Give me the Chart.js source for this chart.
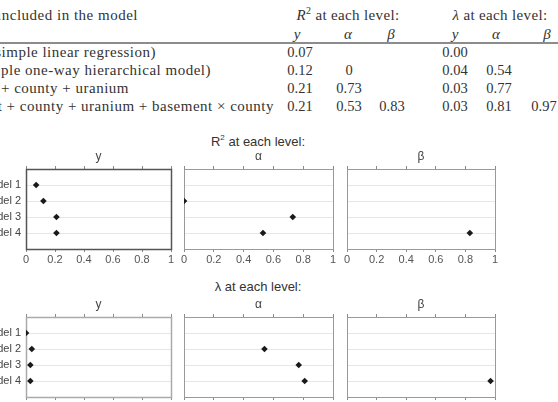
<!DOCTYPE html>
<html>
<head>
<meta charset="utf-8">
<script src="https://cdn.jsdelivr.net/npm/chart.js@4"></script>
<style>
  html, body { margin: 0; padding: 0; background: #fff; }
  body { width: 558px; height: 402px; overflow: hidden; position: relative; }
  .tx { position: absolute; white-space: nowrap; font-family: "Liberation Serif", serif; font-size: 15px; color: #333; height: 20px; line-height: 20px; }
  .desc { letter-spacing: 0.5px; }
  .num { font-size: 14.5px; }
  .hd { letter-spacing: 0.35px; }
  .c { transform: translateX(-50%); }
  .r { text-align: right; }
  .m { font-style: italic; }
  .rule { position: absolute; left: 0; width: 558px; top: 42px; height: 2px; background: #8c8c8c; }
  .ttl { position: absolute; white-space: nowrap; font-family: "Liberation Sans", Arial, sans-serif; font-size: 13px; color: #333; transform: translateX(-50%); height: 16px; line-height: 16px; }
  .ttl sup { font-size: 8px; line-height: 0; vertical-align: 6px; }
  .panel { position: absolute; }
</style>
</head>
<body>

<!-- table above the charts -->
<div class="tx r desc" style="right:420px;top:5px">Predictors included in the model</div>
<div class="tx c hd" style="left:348px;top:5px"><span class="m">R</span><sup style="font-size:10px;line-height:0">2</sup> at each level:</div>
<div class="tx c hd" style="left:500px;top:5px"><span class="m">λ</span> at each level:</div>
<div class="tx c m" style="left:297px;top:24px">y</div>
<div class="tx c m" style="left:348px;top:24px">α</div>
<div class="tx c m" style="left:391px;top:24px">β</div>
<div class="tx c m" style="left:455px;top:24px">y</div>
<div class="tx c m" style="left:496px;top:24px">α</div>
<div class="tx c m" style="left:547px;top:24px">β</div>
<div class="rule"></div>
<div id="tableRows"></div>

<div class="ttl" style="left:258px;top:134px">R<sup>2</sup> at each level:</div>
<div class="ttl" style="left:258px;top:279px">λ at each level:</div>

<div class="panel" style="left:-20px;top:149px;width:197px;height:118px"><canvas id="r2y"></canvas></div>
<div class="panel" style="left:178px;top:149px;width:161px;height:118px"><canvas id="r2a"></canvas></div>
<div class="panel" style="left:341px;top:149px;width:160px;height:118px"><canvas id="r2b"></canvas></div>
<div class="panel" style="left:-20px;top:297px;width:197px;height:118px"><canvas id="lamy"></canvas></div>
<div class="panel" style="left:178px;top:297px;width:161px;height:118px"><canvas id="lama"></canvas></div>
<div class="panel" style="left:341px;top:297px;width:160px;height:118px"><canvas id="lamb"></canvas></div>

<script>
const models = ["Model 1", "Model 2", "Model 3", "Model 4"];
const modelDesc = [
  "basement (simple linear regression)",
  "county (simple one-way hierarchical model)",
  "basement + county + uranium",
  "basement + county + uranium + basement × county"
];
const r2Y = [0.07, 0.12, 0.21, 0.21];
const r2Alpha = [null, 0, 0.73, 0.53];
const r2Beta = [null, null, null, 0.83];
const lamY = [0.00, 0.04, 0.03, 0.03];
const lamAlpha = [null, 0.54, 0.77, 0.81];
const lamBeta = [null, null, null, 0.97];
const xTicks = [0, 0.2, 0.4, 0.6, 0.8, 1];
const xTickLabels = ["0", "0.2", "0.4", "0.6", "0.8", "1"];

// table rows (text right edges / row centres)
const rowRight = [156, 211, 129, 274];
const rowMid = [53, 71, 88.5, 106.5];
const colMid = [300, 349, 392, 455, 499, 544];

const rowsEl = document.getElementById("tableRows");
models.forEach((m, i) => {
  const top = rowMid[i] - 11;
  let html = `<div class="tx r desc" style="right:${558 - rowRight[i]}px;top:${top}px">${modelDesc[i]}</div>`;
  [r2Y, r2Alpha, r2Beta, lamY, lamAlpha, lamBeta].forEach((arr, j) => {
    if (arr[i] === null) return;
    const txt = (arr === r2Alpha && arr[i] === 0) ? "0" : arr[i].toFixed(2);
    html += `<div class="tx c num" style="left:${colMid[j]}px;top:${top}px">${txt}</div>`;
  });
  rowsEl.insertAdjacentHTML("beforeend", html);
});

const framePlugin = {
  id: "frame",
  beforeDatasetsDraw(chart, args, opts) {
    const { ctx, chartArea: a } = chart;
    ctx.save();
    ctx.strokeStyle = opts.color;
    ctx.lineWidth = opts.width;
    ctx.strokeRect(Math.round(a.left) + 0.5, Math.round(a.top) + 0.5, Math.round(a.right - a.left), Math.round(a.bottom - a.top));
    ctx.restore();
  }
};

function noPad(s) {
  s.paddingLeft = 0; s.paddingRight = 0; s.paddingTop = 0; s.paddingBottom = 0;
}

function panel(id, title, values, cfg) {
  const points = [];
  values.forEach((v, i) => { if (v !== null) points.push({ x: v, y: i + 1 }); });
  new Chart(document.getElementById(id), {
    type: "scatter",
    data: {
      datasets: [{
        data: points,
        pointStyle: "rectRot",
        pointRadius: 3.3,
        pointBackgroundColor: "#1a1a1a",
        pointBorderColor: "#1a1a1a",
        pointBorderWidth: 0,
        clip: 0
      }]
    },
    options: {
      responsive: true,
      maintainAspectRatio: false,
      animation: false,
      layout: { padding: { left: cfg.padLeft, right: 6, top: 0, bottom: 0 } },
      scales: {
        x: {
          type: "linear", position: "bottom", min: 0, max: 1,
          afterBuildTicks: (s) => { s.ticks = xTicks.map((v) => ({ value: v })); },
          ticks: {
            color: "#555", padding: 1, maxRotation: 0,
            font: { family: "Liberation Sans", size: 11 },
            callback: (v, i) => xTickLabels[i]
          },
          grid: { drawOnChartArea: false, tickLength: 3, color: "#8a8a8a" },
          border: { display: false },
          afterFit: (s) => { s.height = 18; noPad(s); }
        },
        xTop: {
          type: "linear", position: "top", min: 0, max: 1,
          afterBuildTicks: (s) => { s.ticks = xTicks.map((v) => ({ value: v })); },
          ticks: { display: false },
          grid: { drawOnChartArea: false, tickLength: 3, color: "#8a8a8a" },
          border: { display: false },
          afterFit: (s) => { s.height = 3; noPad(s); }
        },
        y: {
          type: "linear", min: 0, max: 5, reverse: true,
          afterBuildTicks: (s) => { s.ticks = models.map((m, i) => ({ value: i + 1 })); },
          ticks: {
            display: cfg.labels,
            padding: 5,
            color: "#444",
            font: { family: "Liberation Sans", size: 11 },
            callback: (v) => models[v - 1]
          },
          grid: { drawTicks: false, color: "#e6e6e6" },
          border: { display: false },
          afterFit: (s) => { s.width = cfg.labels ? 46 : 0; noPad(s); }
        }
      },
      plugins: {
        legend: { display: false },
        tooltip: { enabled: false },
        title: {
          display: true, text: title, fullSize: false,
          color: "#444", font: { family: "Liberation Sans", size: 12, weight: "normal" },
          padding: { top: 0, bottom: 2.6 }
        },
        frame: { color: cfg.frame, width: cfg.frameWidth }
      }
    },
    plugins: [framePlugin]
  });
}

panel("r2y", "y", r2Y, { labels: true, padLeft: 0, frame: "#555", frameWidth: 1.5 });
panel("r2a", "α", r2Alpha, { labels: false, padLeft: 6, frame: "#999", frameWidth: 1 });
panel("r2b", "β", r2Beta, { labels: false, padLeft: 6, frame: "#999", frameWidth: 1 });
panel("lamy", "y", lamY, { labels: true, padLeft: 0, frame: "#aaa", frameWidth: 1.5 });
panel("lama", "α", lamAlpha, { labels: false, padLeft: 6, frame: "#999", frameWidth: 1 });
panel("lamb", "β", lamBeta, { labels: false, padLeft: 6, frame: "#999", frameWidth: 1 });
</script>
</body>
</html>
